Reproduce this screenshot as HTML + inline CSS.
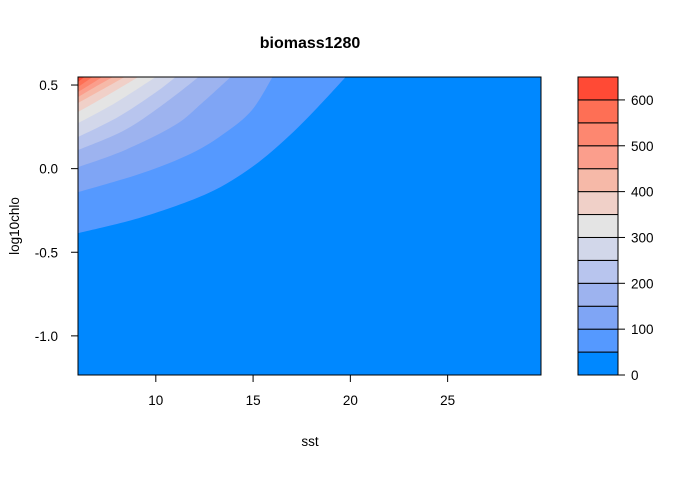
<!DOCTYPE html>
<html><head><meta charset="utf-8"><style>
body{margin:0;background:#fff;}
svg text{font-family:"Liberation Sans",Arial,sans-serif;font-size:13.5px;fill:#000;}
</style></head><body>
<svg id="chart" width="696" height="473" viewBox="0 0 696 473" xmlns="http://www.w3.org/2000/svg">
<text x="310" y="48" text-anchor="middle" style="font-weight:bold;font-size:16px">biomass1280</text>
<text x="310" y="446" text-anchor="middle">sst</text>
<text x="19" y="226" text-anchor="middle" transform="rotate(-90 19 226)">log10chlo</text>
<g id="plot"></g>
<g id="legend"></g>
</svg>
<script>
const levels = [0,50,100,150,200,250,300,350,400,450,500,550,600,650];
const colors = ["#0088FF","#5599FF","#7FA5F5","#9DB3EF","#B8C5EE","#D2D7EA","#E4E4E4","#F0D0C8","#F6B9A8","#FB9E8C","#FD8770","#FE6F55","#FF4A35"];
const xTicks = [10,15,20,25];
const yTicks = [0.5,0.0,-0.5,-1.0];
const yTickLabels = ["0.5","0.0","-0.5","-1.0"];
const legendTicks = [0,100,200,300,400,500,600];
// contour boundary lines [sst, log10chlo], one per level 50..600
const contour50 = [[6,-0.386],[9.29,-0.29],[12.68,-0.147],[14.94,0.009],[16.79,0.189],[18.33,0.368],[19.76,0.548]];
const contour100 = [[6,-0.141],[9.29,-0.027],[11.86,0.093],[13.55,0.213],[14.94,0.35],[16.0,0.548]];
const contour150 = [[6,0.009],[8.41,0.111],[10.98,0.26],[12.37,0.392],[13.85,0.548]];
const contour200 = [[6,0.111],[8.41,0.231],[10.47,0.392],[12.2,0.548]];
const contour250 = [[6,0.189],[8.05,0.308],[9.95,0.452],[11.02,0.548]];
const contour300 = [[6,0.272],[7.9,0.392],[10.0,0.548]];
const contour350 = [[6,0.338],[7.54,0.44],[9.1,0.548]];
const contour400 = [[6,0.392],[7.2,0.47],[8.4,0.548]];
const contour450 = [[6,0.428],[6.9,0.49],[7.8,0.548]];
const contour500 = [[6,0.458],[7.25,0.548]];
const contour550 = [[6,0.488],[6.75,0.548]];
const contour600 = [[6,0.518],[6.33,0.548]];
const contours = [contour50,contour100,contour150,contour200,contour250,contour300,contour350,contour400,contour450,contour500,contour550,contour600];
const xMin=6, xMax=29.8, yMin=-1.234, yMax=0.548;
const L=78,R=541,T=77,B=375;
const NS="http://www.w3.org/2000/svg";
function xs(v){return L+(v-xMin)/(xMax-xMin)*(R-L);}
function ys(v){return B-(v-yMin)/(yMax-yMin)*(B-T);}
function mk(tag,attrs,parent){const e=document.createElementNS(NS,tag);for(const k in attrs)e.setAttribute(k,attrs[k]);parent.appendChild(e);return e;}
function smoothPath(pts){
  let d='M'+pts[0][0]+','+pts[0][1];
  for(let i=0;i<pts.length-1;i++){
    const p0=pts[Math.max(i-1,0)],p1=pts[i],p2=pts[i+1],p3=pts[Math.min(i+2,pts.length-1)];
    const c1=[p1[0]+(p2[0]-p0[0])/6,p1[1]+(p2[1]-p0[1])/6];
    const c2=[p2[0]-(p3[0]-p1[0])/6,p2[1]-(p3[1]-p1[1])/6];
    d+=' C'+c1[0]+','+c1[1]+' '+c2[0]+','+c2[1]+' '+p2[0]+','+p2[1];
  }
  return d;
}
const plot=document.getElementById('plot');
const defs=mk('defs',{},plot);
const cp=mk('clipPath',{id:'clip'},defs);
mk('rect',{x:L,y:T,width:R-L,height:B-T},cp);
const bg=mk('rect',{x:L,y:T,width:R-L,height:B-T,fill:colors[0]},plot);


const bands=mk('g',{'clip-path':'url(#clip)'},plot);
contours.forEach((c,i)=>{
  const pts=c.map(p=>[xs(p[0]),ys(p[1])]);
  const d=smoothPath(pts)+' L'+xs(xMin)+','+ys(yMax)+' Z';
  const p=mk('path',{d:d,fill:colors[i+1]},bands);
  
  
});
const frame=mk('rect',{x:L,y:T,width:R-L,height:B-T,fill:'none',stroke:'#000','stroke-width':1},plot);


xTicks.forEach(v=>{
  const x=xs(v);
  const t=mk('line',{x1:x,x2:x,y1:B,y2:B+7,stroke:'#000'},plot);
  
  
  const l=mk('text',{x:x,y:B+30,'text-anchor':'middle'},plot);l.textContent=v;
  
  
});
yTicks.forEach((v,i)=>{
  const y=ys(v);
  const t=mk('line',{x1:L-7,x2:L,y1:y,y2:y,stroke:'#000'},plot);
  
  
  const l=mk('text',{x:L-20,y:y+5,'text-anchor':'end'},plot);l.textContent=yTickLabels[i];
  
  
});
const leg=document.getElementById('legend');
const LL=578,LR=618,LT=77,LB=375;
const lmin=levels[0],lmax=levels[levels.length-1];
function ly(v){return LB-(v-lmin)/(lmax-lmin)*(LB-LT);}
colors.forEach((c,i)=>{
  const r=mk('rect',{x:LL,y:ly(levels[i+1]),width:LR-LL,height:ly(levels[i])-ly(levels[i+1]),fill:c,stroke:'#000','stroke-width':1},leg);
  
  
});
legendTicks.forEach(v=>{
  const y=ly(v);
  const t=mk('line',{x1:LR,x2:LR+7,y1:y,y2:y,stroke:'#000'},leg);
  
  
  const l=mk('text',{x:LR+13,y:y+5},leg);l.textContent=v;
  
  
});
</script>
</body></html>
